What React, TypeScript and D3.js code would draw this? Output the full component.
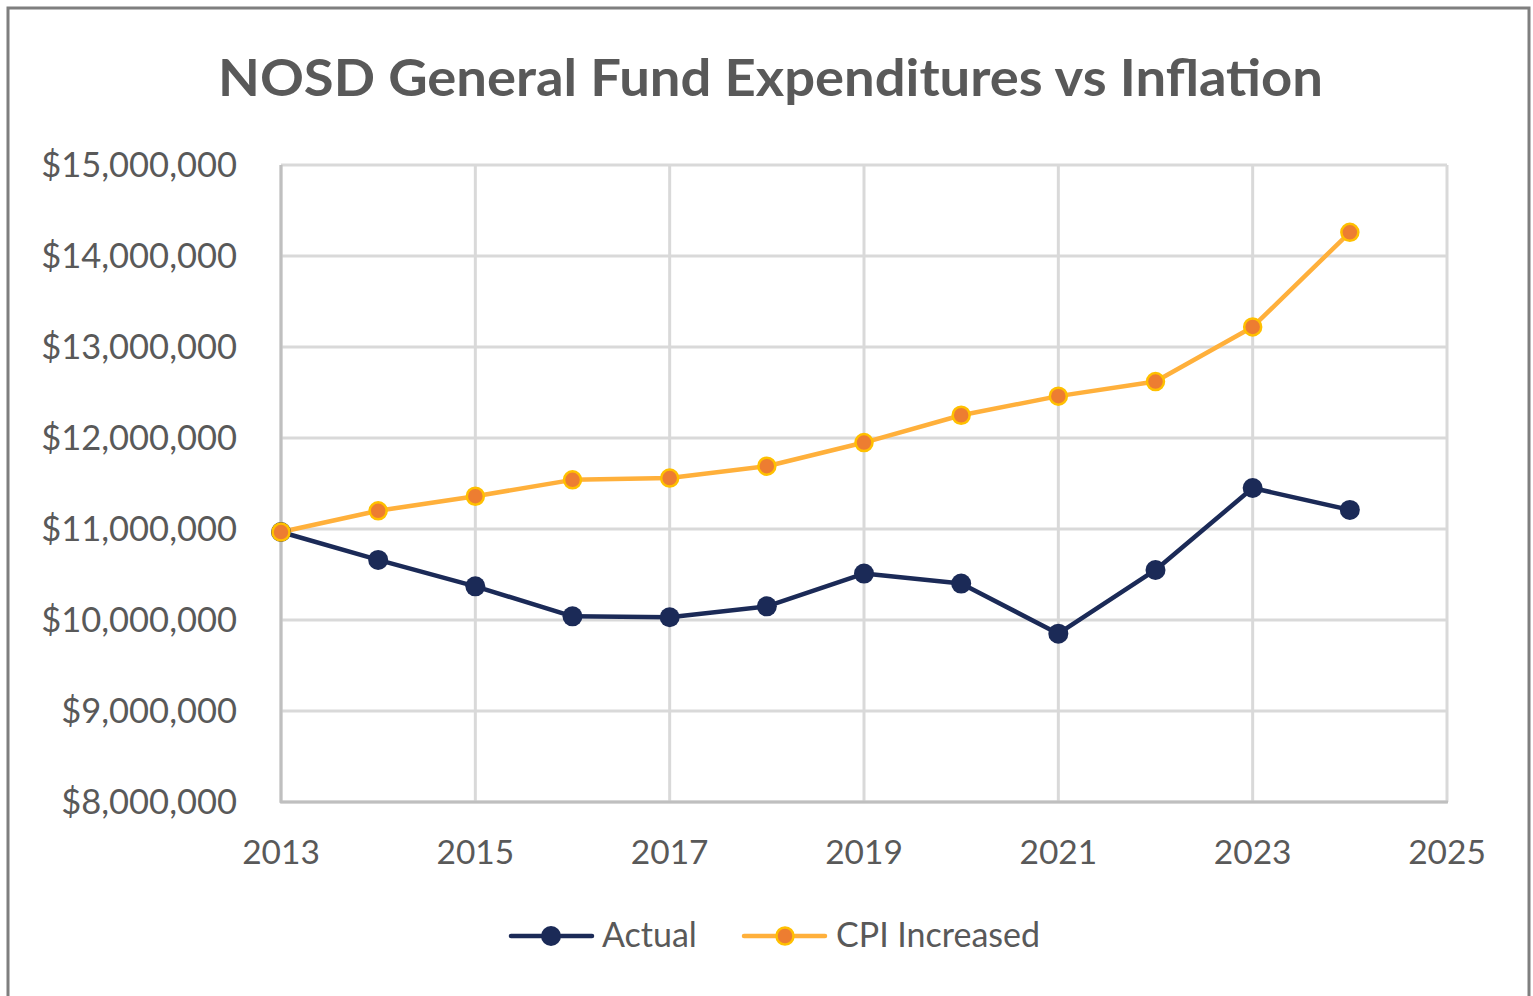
import React from "react";
import * as d3 from "d3";

const years = [2013, 2014, 2015, 2016, 2017, 2018, 2019, 2020, 2021, 2022, 2023, 2024];
const actual = [10967000, 10660000, 10370000, 10040000, 10030000, 10150000, 10510000, 10400000, 9850000, 10550000, 11450000, 11210000];
const cpiIncreased = [10967000, 11200000, 11360000, 11540000, 11560000, 11690000, 11950000, 12250000, 12460000, 12620000, 13220000, 14260000];
const xTicks = [2013, 2015, 2017, 2019, 2021, 2023, 2025];
const yTicks = [8000000, 9000000, 10000000, 11000000, 12000000, 13000000, 14000000, 15000000];
const seriesNames = ["Actual", "CPI Increased"];

const W = 1533;
const H = 996;
const FONT = "Lato, 'Open Sans', sans-serif";
const TEXT = "#595959";

export default function App() {
  const x = d3.scaleLinear().domain([2013, 2025]).range([281, 1447]);
  const y = d3.scaleLinear().domain([8000000, 15000000]).range([802, 165]);
  const fmt = (v: number) => "$" + d3.format(",")(v);
  const line = d3
    .line<number>()
    .x((_, i) => x(years[i]))
    .y((d) => y(d));

  const navy = "#1b2a57";
  const gold = "#ffb03b";
  const markFill = "#ed7d31";
  const markStroke = "#ffc000";

  return (
    <svg width={W} height={H} style={{ position: "absolute", left: 0, top: 0, background: "#fff" }}>
      <rect x={0} y={0} width={W} height={H} fill="#fff" />
      <rect x={8} y={8} width={1521} height={H + 20} fill="none" stroke="#7f7f7f" strokeWidth={3} />
      <text x={218} y={96} textLength={1105} lengthAdjust="spacingAndGlyphs" fontFamily={FONT} fontWeight={700} fontSize={51} fill={TEXT}>
        NOSD General Fund Expenditures vs Inflation
      </text>
      {/* grid */}
      {yTicks.map((t) => (
        <line key={"gy" + t} x1={281} x2={1447} y1={y(t)} y2={y(t)} stroke="#d9d9d9" strokeWidth={3} />
      ))}
      {xTicks.map((t) => (
        <line key={"gx" + t} x1={x(t)} x2={x(t)} y1={165} y2={802} stroke="#d9d9d9" strokeWidth={3} />
      ))}
      <line x1={281} x2={281} y1={165} y2={803} stroke="#bfbfbf" strokeWidth={3} />
      <line x1={280} x2={1448} y1={802} y2={802} stroke="#bfbfbf" strokeWidth={3} />
      {/* y labels */}
      {yTicks.map((t) => (
        <text key={"ly" + t} x={237} y={y(t) + 12} textAnchor="end" fontFamily={FONT} fontSize={34.5} fill={TEXT}>
          {fmt(t)}
        </text>
      ))}
      {xTicks.map((t) => (
        <text key={"lx" + t} x={x(t)} y={864} textAnchor="middle" fontFamily={FONT} fontSize={33.5} fill={TEXT}>
          {t}
        </text>
      ))}
      {/* series */}
      <path d={line(cpiIncreased) || ""} fill="none" stroke={gold} strokeWidth={4.5} strokeLinejoin="round" />
      <path d={line(actual) || ""} fill="none" stroke={navy} strokeWidth={4.5} strokeLinejoin="round" />
      {actual.map((v, i) => (
        <circle key={"a" + i} cx={x(years[i])} cy={y(v)} r={10} fill={navy} />
      ))}
      {cpiIncreased.map((v, i) => (
        <circle key={"c" + i} cx={x(years[i])} cy={y(v)} r={8.5} fill={markFill} stroke={markStroke} strokeWidth={2.5} />
      ))}
      {/* legend */}
      <line x1={511} x2={592} y1={936} y2={936} stroke={navy} strokeWidth={4.5} strokeLinecap="round" />
      <circle cx={551} cy={936} r={10} fill={navy} />
      <text x={602} y={947} fontFamily={FONT} fontSize={34} fill={TEXT}>{seriesNames[0]}</text>
      <line x1={744} x2={825} y1={936} y2={936} stroke={gold} strokeWidth={4.5} strokeLinecap="round" />
      <circle cx={785} cy={936} r={8.5} fill={markFill} stroke={markStroke} strokeWidth={2.5} />
      <text x={836} y={947} fontFamily={FONT} fontSize={34} fill={TEXT}>{seriesNames[1]}</text>
    </svg>
  );
}
